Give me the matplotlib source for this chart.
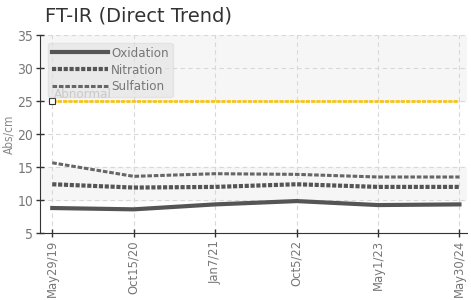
import numpy as np
import matplotlib
matplotlib.use("Agg")
import matplotlib.pyplot as plt
from matplotlib.font_manager import FontProperties

dates = ["May29/19", "Oct15/20", "Jan7/21", "Oct5/22", "May1/23", "May30/24"]
oxidation = [8.8, 8.6, 9.35, 9.85, 9.25, 9.35]
nitration = [12.4, 11.9, 12.0, 12.4, 12.0, 12.0]
sulfation = [15.65, 13.6, 14.0, 13.9, 13.5, 13.5]
abnormal = [25, 25, 25, 25, 25, 25]


def narrow(size):
    return FontProperties(family="DejaVu Sans", stretch="condensed", size=size)


fig = plt.figure(figsize=(4.71, 3.0), dpi=100)
ax = fig.add_axes([0.085, 0.223, 0.906, 0.66])
x = np.arange(len(dates))

ax.axhspan(25, 35, color="#f6f6f6", zorder=0)
ax.axhspan(10, 15, color="#f6f6f6", zorder=0)
ax.grid(True, color="#d8d8d8", linestyle=(0, (4, 3)), linewidth=0.8, zorder=1)

ax.plot(x, abnormal, color="#f5c518", lw=2, linestyle=(0, (1.5, 0.4)), zorder=3)
ax.plot(x[:1], abnormal[:1], marker="s", ms=4, mfc="white", mec="#333333", mew=0.8, zorder=4)
ax.text(0.02, 25.5, "Abnormal", color="#999999", fontproperties=narrow(9.5), zorder=5)

ax.plot(x, oxidation, color="#555555", lw=3, label="Oxidation", zorder=3)
ax.plot(x, nitration, color="#555555", lw=3, linestyle=(0, (1, 0.4)), label="Nitration", zorder=3)
ax.plot(x, sulfation, color="#666666", lw=2.2, linestyle=(0, (1.5, 0.6)), label="Sulfation", zorder=3)

ax.set_xlim(-0.15, 5.09)
ax.set_ylim(5, 35)
ax.set_yticks([5, 10, 15, 20, 25, 30, 35])
ax.set_xticks(x)
ax.set_xticklabels(dates, rotation=90, fontproperties=narrow(9.3), color="#777777")
for lab in ax.get_yticklabels():
    lab.set_fontproperties(narrow(10))
    lab.set_color("#777777")
ax.tick_params(direction="inout", length=6, width=1, color="#333333", pad=2)
ax.set_ylabel("Abs/cm", color="#888888", fontproperties=narrow(8.5), labelpad=1)
for s in ["top", "right"]:
    ax.spines[s].set_visible(False)
for s in ["left", "bottom"]:
    ax.spines[s].set_color("#333333")

leg = ax.legend(loc="upper left", bbox_to_anchor=(0.018, 0.962), handlelength=4.3,
                handletextpad=0.2, labelspacing=0.3, borderpad=0.3, borderaxespad=0,
                fancybox=True, framealpha=0.65, facecolor="#e4e4e4", edgecolor="#dddddd",
                prop=narrow(9.5))
leg.set_zorder(7)
for t in leg.get_texts():
    t.set_color("#777777")

fig.text(0.096, 0.93, "FT-IR (Direct Trend)", fontsize=14, color="#333333", va="baseline")
fig.savefig("out.png", dpi=100)
